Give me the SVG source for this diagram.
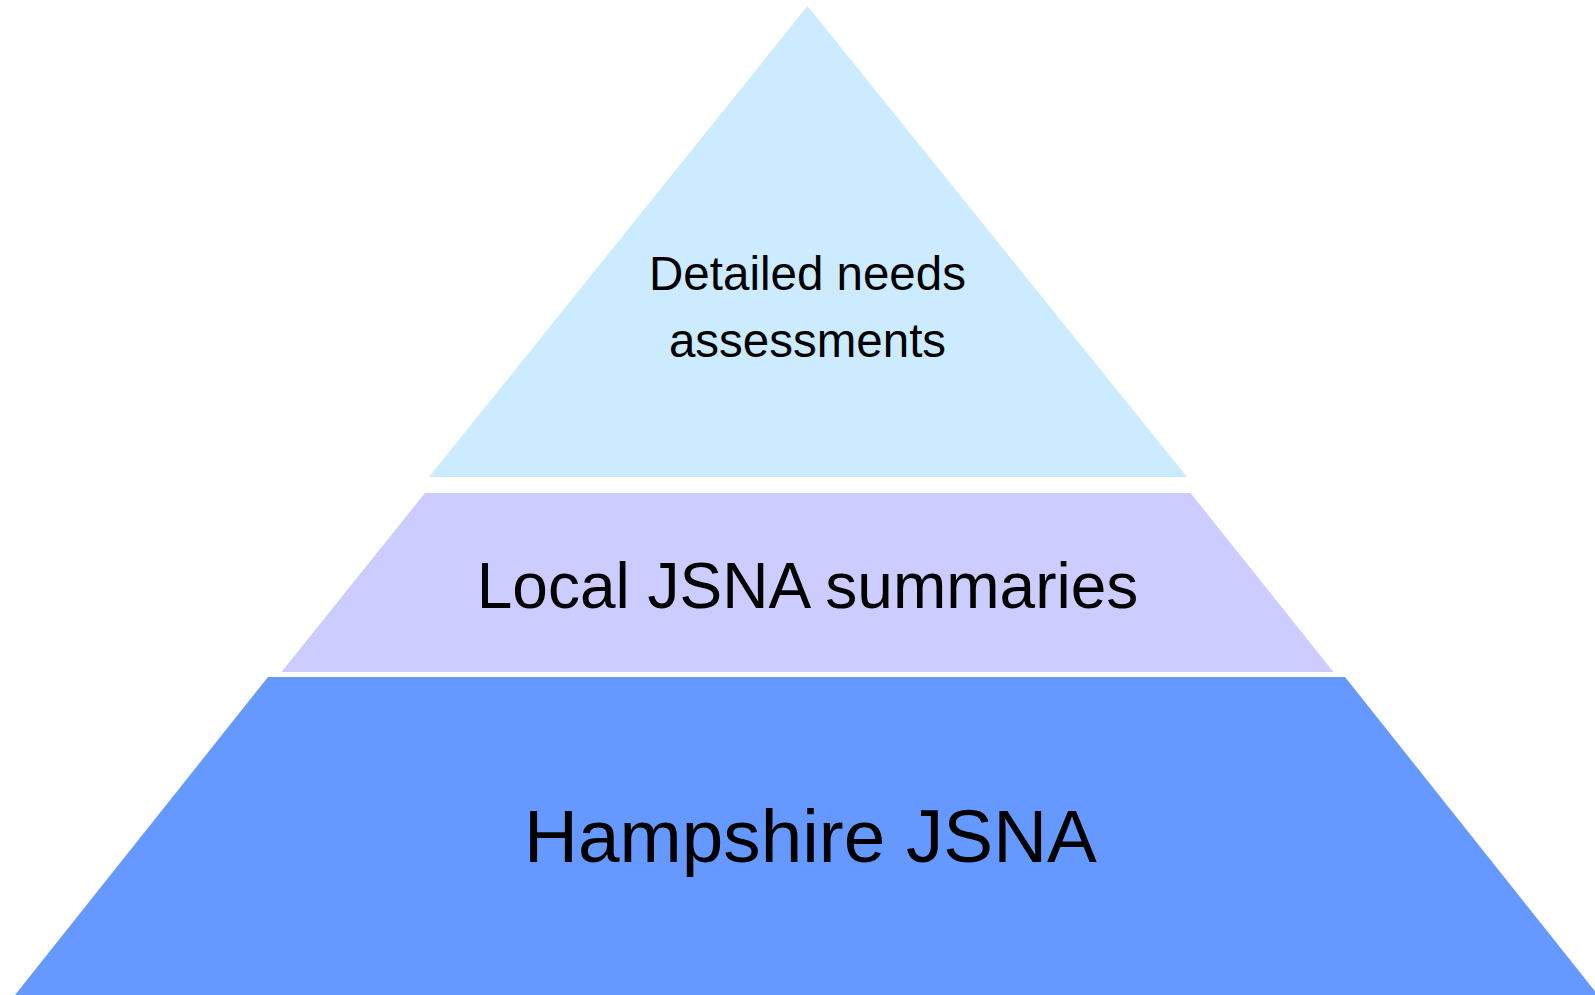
<svg xmlns="http://www.w3.org/2000/svg" width="1595" height="995" viewBox="0 0 1595 995">
<style>
text{font-family:"Liberation Sans",Arial,sans-serif;fill:#000;text-anchor:middle}
</style>
<rect width="1595" height="995" fill="#fff"/>
<g id="top">
<polygon points="807.5,6 1187,477 429,477" fill="#CCEBFF"/>
<text x="807.5" y="290" font-size="47.5">Detailed needs</text>
<text x="807.5" y="357" font-size="47.5">assessments</text>
</g>
<g id="middle">
<polygon points="425,493 1190.5,493 1333.5,672 281.5,672" fill="#CCCCFF"/>
<text x="807.5" y="608" font-size="64">Local JSNA summaries</text>
</g>
<g id="bottom">
<polygon points="268,677 1345,677 1598,995 15,995" fill="#6699FF"/>
<text x="810.5" y="862" font-size="74.7">Hampshire JSNA</text>
</g>
<g id="connectors"/>
</svg>
